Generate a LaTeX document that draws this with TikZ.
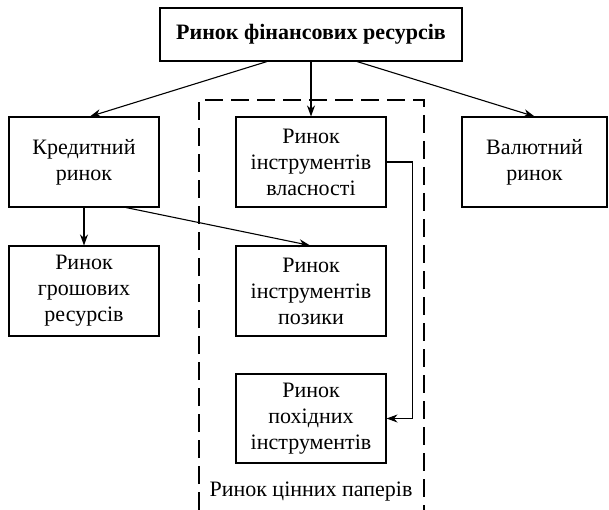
\documentclass[tikz,border=0pt]{standalone}
\usepackage{fontspec}
\newfontfamily\timesfont{Liberation Serif}
\usetikzlibrary{arrows.meta}
\begin{document}
\begin{tikzpicture}[x=1pt,y=-1pt,
  font=\timesfont\fontsize{22}{26}\selectfont,
  box/.style={draw, line width=1.1pt, inner sep=0pt, align=center,
    minimum width=150pt, minimum height=90pt},
  arr/.style={line width=1.1pt, -{Stealth[length=11pt,width=8pt,inset=3.5pt]}},
  frame/.style={line width=1.1pt, dash pattern=on 18pt off 8pt}]
\useasboundingbox (0,0) rectangle (609,510);

\node[box, minimum width=302pt, minimum height=53pt] (top) at (311,34.5)
  {\textbf{Ринок фінансових ресурсів}};
\node[box] (kred) at (84,162) {Кредитний\\ринок};
\node[box] (vlas) at (311,162) {Ринок\\інструментів\\власності};
\node[box, minimum width=145pt] (val) at (534.5,162) {Валютний\\ринок};
\node[box] (grosh) at (84,291) {Ринок\\грошових\\ресурсів};
\node[box] (pozyk) at (311,291) {Ринок\\інструментів\\позики};
\node[box, minimum height=89pt] (pokhid) at (311,418.5) {Ринок\\похідних\\інструментів};

% securities market frame, open at the bottom
\coordinate (fbl) at (199,510);
\coordinate (ftl) at (199,100);
\coordinate (ftr) at (424,100);
\coordinate (fbr) at (424,510);
\draw[frame] (fbl) -- (ftl) -- (ftr) -- (fbr);
\node (cinni) at (311,492) {Ринок цінних паперів};

% connectors
\draw[arr] ([xshift=-44pt]top.south) -- ([xshift=6pt]kred.north);
\draw[arr] (top.south) -- (vlas.north);
\draw[arr] ([xshift=46pt]top.south) -- (val.north);
\draw[arr] (kred.south) -- (grosh.north);
\draw[arr] ([xshift=42pt]kred.south) -- ([xshift=-1pt]pozyk.north);
\draw[arr] (vlas.east) -- ++(26,0) |- (pokhid.east);
\end{tikzpicture}
\end{document}
